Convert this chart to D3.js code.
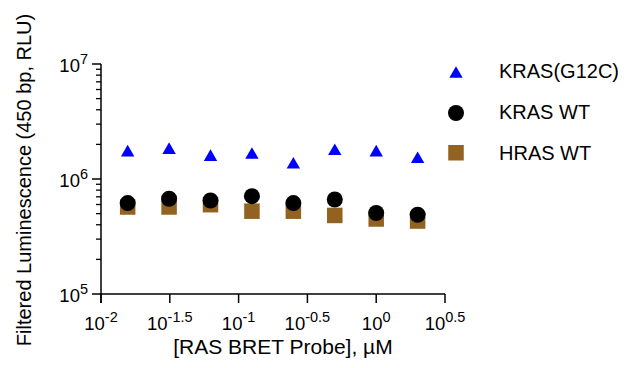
<!DOCTYPE html>
<html>
<head>
<meta charset="utf-8">
<script src="https://cdn.jsdelivr.net/npm/d3@7"></script>
<style>
  body { margin: 0; background: #fff; }
  text { font-family: "Liberation Sans", Arial, sans-serif; fill: #000; }
</style>
</head>
<body>
<div id="chart"></div>
<script>
// concentrations, uM (2-fold dilution series)
var conc = [0.015625, 0.03125, 0.0625, 0.125, 0.25, 0.5, 1, 2];
var krasG12C = [1.76e6, 1.85e6, 1.61e6, 1.68e6, 1.38e6, 1.81e6, 1.76e6, 1.54e6];
var krasWT = [6.18e5, 6.73e5, 6.5e5, 7.09e5, 6.18e5, 6.63e5, 5.06e5, 4.89e5];
var hrasWT = [5.71e5, 5.71e5, 5.98e5, 5.25e5, 5.25e5, 4.82e5, 4.49e5, 4.31e5];
var seriesNames = ["KRAS(G12C)", "KRAS WT", "HRAS WT"];
var xTickExps = ["-2", "-1.5", "-1", "-0.5", "0", "0.5"];
var yTickExps = [5, 6, 7];

var W = 639, H = 368;
var margin = {top: 64, right: 194, bottom: 74, left: 101},
    width = W - margin.left - margin.right,
    height = H - margin.top - margin.bottom;

var svg = d3.select("#chart")
  .append("svg")
    .attr("width", W)
    .attr("height", H)
  .append("g")
    .attr("transform", "translate(" + margin.left + "," + margin.top + ")");

var x = d3.scaleLog().domain([Math.pow(10, -2), Math.pow(10, 0.5)]).range([0, width]);
var y = d3.scaleLog().domain([1e5, 1e7]).range([height, 0]);

// y axis with minor ticks
var yMinor = [];
for (var e = 5; e < 7; e++) {
  for (var m = 2; m <= 9; m++) yMinor.push(m * Math.pow(10, e));
}
var yAxis = svg.append("g");
yAxis.append("line").attr("x1", 0).attr("x2", 0).attr("y1", 0).attr("y2", height + 9)
  .attr("stroke", "#000").attr("stroke-width", 1.5);
yAxis.selectAll(".minor").data(yMinor).enter().append("line")
  .attr("x1", -5).attr("x2", 0)
  .attr("y1", function (d) { return y(d); }).attr("y2", function (d) { return y(d); })
  .attr("stroke", "#000").attr("stroke-width", 1.3);
yAxis.selectAll(".major").data(yTickExps).enter().append("line")
  .attr("x1", -9).attr("x2", 0)
  .attr("y1", function (d) { return y(Math.pow(10, d)); }).attr("y2", function (d) { return y(Math.pow(10, d)); })
  .attr("stroke", "#000").attr("stroke-width", 1.5);
var yl = yAxis.selectAll(".ylab").data(yTickExps).enter().append("text")
  .attr("x", -13)
  .attr("y", function (d) { return y(Math.pow(10, d)) + 8; })
  .attr("text-anchor", "end")
  .style("font-size", "18.5px");
yl.append("tspan").text("10");
yl.append("tspan").attr("dy", -8).style("font-size", "14.5px").text(function (d) { return d; });

// x axis
var xAxis = svg.append("g").attr("transform", "translate(0," + height + ")");
xAxis.append("line").attr("x1", 0).attr("x2", width).attr("y1", 0).attr("y2", 0)
  .attr("stroke", "#000").attr("stroke-width", 1.5);
xAxis.selectAll(".xt").data(xTickExps).enter().append("line")
  .attr("x1", function (d) { return x(Math.pow(10, +d)); })
  .attr("x2", function (d) { return x(Math.pow(10, +d)); })
  .attr("y1", 0).attr("y2", 9)
  .attr("stroke", "#000").attr("stroke-width", 1.5);
var xl = xAxis.selectAll(".xlab").data(xTickExps).enter().append("text")
  .attr("x", function (d) { return x(Math.pow(10, +d)); })
  .attr("y", 36)
  .attr("text-anchor", "middle")
  .style("font-size", "18.5px");
xl.append("tspan").text("10");
xl.append("tspan").attr("dy", -8).style("font-size", "14.5px").text(function (d) { return d; });

// axis titles
svg.append("text")
  .attr("transform", "translate(-70," + (height / 2 + 1) + ") rotate(-90)")
  .attr("text-anchor", "middle")
  .style("font-size", "20px")
  .text("Filtered Luminescence (450 bp, RLU)");
svg.append("text")
  .attr("x", width / 2 + 10)
  .attr("y", height + 60)
  .attr("text-anchor", "middle")
  .style("font-size", "21px")
  .text("[RAS BRET Probe], \u00b5M");

var tri = d3.symbol().type(d3.symbolTriangle).size(78);

// HRAS squares (drawn first, behind circles)
svg.append("g").selectAll("rect").data(hrasWT).enter().append("rect")
  .attr("x", function (d, i) { return x(conc[i]) - 7.75; })
  .attr("y", function (d) { return y(d) - 7.75; })
  .attr("width", 15.5).attr("height", 15.5)
  .attr("fill", "#926220");

svg.append("g").selectAll("circle").data(krasWT).enter().append("circle")
  .attr("cx", function (d, i) { return x(conc[i]); })
  .attr("cy", function (d) { return y(d); })
  .attr("r", 8)
  .attr("fill", "#000");

svg.append("g").selectAll("path").data(krasG12C).enter().append("path")
  .attr("d", tri)
  .attr("transform", function (d, i) { return "translate(" + x(conc[i]) + "," + (y(d) + 1.8) + ")"; })
  .attr("fill", "#0000ff");

// legend
var leg = d3.select("svg").append("g").attr("transform", "translate(456,0)");
leg.append("path").attr("d", tri).attr("transform", "translate(0,74)").attr("fill", "#0000ff");
leg.append("circle").attr("cx", 0).attr("cy", 113).attr("r", 8).attr("fill", "#000");
leg.append("rect").attr("x", -7.75).attr("y", 145).attr("width", 15.5).attr("height", 15.5).attr("fill", "#926220");
leg.selectAll("text").data(seriesNames).enter().append("text")
  .attr("x", 43)
  .attr("y", function (d, i) { return 78 + i * 41; })
  .style("font-size", "20px")
  .text(function (d) { return d; });
</script>
</body>
</html>
